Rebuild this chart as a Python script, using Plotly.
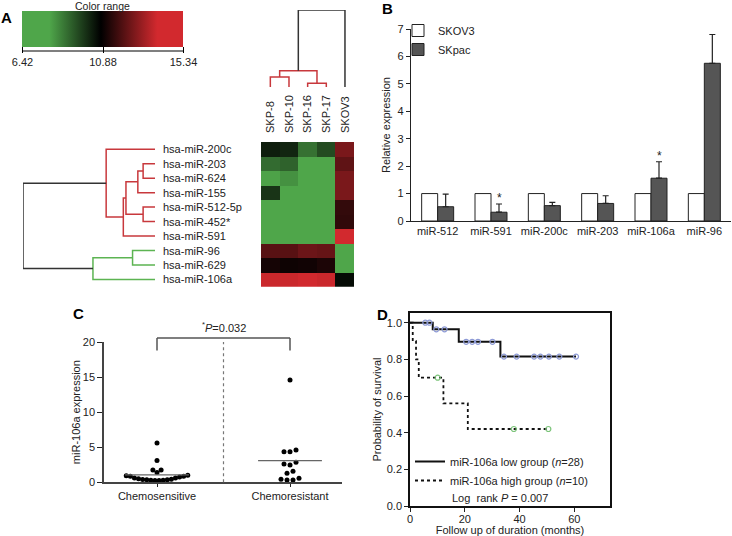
import numpy as np
import plotly.graph_objects as go

W, H = 732, 536
FONT = "Liberation Sans, Arial, Helvetica, sans-serif"

# ======================= DATA =======================
# Panel A - heatmap of miRNA expression
heat_rows = ["hsa-miR-200c", "hsa-miR-203", "hsa-miR-624", "hsa-miR-155",
             "hsa-miR-512-5p", "hsa-miR-452*", "hsa-miR-591", "hsa-miR-96",
             "hsa-miR-629", "hsa-miR-106a"]
heat_cols = ["SKP-8", "SKP-10", "SKP-16", "SKP-17", "SKOV3"]
heat_values = [
    [10.30, 10.15, 8.85, 9.50, 12.60],
    [8.95, 9.10, 6.90, 6.90, 12.20],
    [8.00, 8.30, 6.90, 6.90, 12.60],
    [9.90, 6.90, 6.90, 6.90, 12.60],
    [6.90, 6.90, 6.90, 6.90, 11.55],
    [6.90, 6.90, 6.90, 6.90, 11.50],
    [6.90, 6.90, 6.90, 6.90, 14.50],
    [12.10, 12.10, 12.40, 12.30, 6.90],
    [11.10, 11.00, 11.05, 11.20, 6.90],
    [13.80, 13.80, 13.90, 13.80, 10.60],
]
color_range_ticks = [6.42, 10.88, 15.34]
# hierarchical clustering (scipy-like linkage: child a, child b, height)
row_linkage = [(1, 2, 0.09), (10, 3, 0.13), (4, 5, 0.09), (11, 12, 0.22),
               (13, 6, 0.24), (0, 14, 0.37), (7, 8, 0.17), (16, 9, 0.47),
               (15, 17, 1.00)]
col_linkage = [(0, 1, 0.13), (2, 3, 0.05), (5, 6, 0.21), (7, 4, 1.00)]

# Panel B - qRT-PCR validation
b_mirnas = ["miR-512", "miR-591", "miR-200c", "miR-203", "miR-106a", "miR-96"]
b_skov3 = [1.0, 1.0, 1.0, 1.0, 1.0, 1.0]
b_skpac = [0.52, 0.32, 0.56, 0.64, 1.56, 5.75]
b_skpac_err = [0.46, 0.30, 0.12, 0.28, 0.60, 1.05]
b_significant = [False, True, False, False, True, False]

# Panel C - miR-106a expression in patient samples
c_groups = ["Chemosensitive", "Chemoresistant"]
c_sensitive = [5.6, 3.1, 1.76, 1.76, 1.38, 1.0, 0.85, 0.75, 0.6, 0.45, 0.35,
               0.3, 0.25, 0.25, 0.3, 0.35, 0.4, 0.5, 0.6, 0.85, 0.95]
c_resistant = [14.58, 4.37, 4.37, 4.6, 2.85, 2.47, 2.6, 1.57, 1.28,
               0.43, 0.33, 0.33, 0.57]
c_p_value = 0.032

# Panel D - Kaplan-Meier survival
d_low_times = [0, 8.3, 17.8, 33.0, 60.6]
d_low_surv = [1.0, 0.964, 0.896, 0.815, 0.815]
d_low_censor = [5.6, 7.1, 9.6, 12.6, 20.5, 22.7, 24.8, 30.1, 34.3, 38.9,
                45.3, 47.6, 50.7, 54.5, 60.6]
d_high_times = [0, 1.0, 2.2, 3.2, 12.2, 21.1, 50.5]
d_high_surv = [1.0, 0.9, 0.8, 0.7, 0.56, 0.42, 0.42]
d_high_censor = [10.1, 37.9, 50.5]
d_low_n, d_high_n = 28, 10
d_logrank_p = 0.007


# ======================= HELPERS =======================
def dom_x(x0, x1):
    return [x0 / W, x1 / W]


def dom_y(ytop, ybot):
    return [1 - ybot / H, 1 - ytop / H]


def dendro_segments(linkage, n):
    pos = {i: float(i) for i in range(n)}
    hgt = {i: 0.0 for i in range(n)}
    segs = []
    for k, (a, b, h) in enumerate(linkage):
        segs.append(([hgt[a], h, h, hgt[b]], [pos[a], pos[a], pos[b], pos[b]]))
        pos[n + k] = (pos[a] + pos[b]) / 2
        hgt[n + k] = h
    return segs


def swarm_offsets(values, y_px_per_unit, row_px, spacing_px):
    vals = np.asarray(values, float)
    rows = np.floor(vals * y_px_per_unit / row_px).astype(int)
    off = np.zeros(len(vals))
    for r in np.unique(rows):
        idx = np.where(rows == r)[0]
        idx = idx[np.argsort(vals[idx], kind="stable")]
        m = len(idx)
        slots = [(j - (m - 1) / 2) * spacing_px for j in range(m)]
        slots.sort(key=lambda s: (abs(s), s))
        for i, s in zip(idx, slots):
            off[i] = s
    return off


def step_value(t, times, surv):
    v = surv[0]
    for tt, ss in zip(times, surv):
        if tt <= t:
            v = ss
    return v


# ======================= STYLE =======================
RED = "#c8383c"
GREEN = "#5cb452"
BLACK = "#333333"
row_link_colors = [RED] * 6 + [GREEN] * 2 + [BLACK]
col_link_colors = [RED] * 3 + [BLACK]
heat_colorscale = [[0.0, "#4fa64a"], [0.17, "#4fa64a"], [0.49, "#000000"],
                   [0.84, "#d2292e"], [1.0, "#d2292e"]]

fig = go.Figure()

# ---------- Panel A ----------
fig.add_trace(go.Heatmap(
    z=heat_values, x=list(range(len(heat_cols))), y=list(range(len(heat_rows))),
    colorscale=heat_colorscale, zmin=color_range_ticks[0], zmax=color_range_ticks[-1],
    xaxis="x", yaxis="y", hoverinfo="skip",
    colorbar=dict(orientation="h", x=103 / W, xanchor="center", y=1 - 11 / H,
                  yanchor="top", len=161, lenmode="pixels", thickness=36,
                  thicknessmode="pixels", outlinewidth=0, xpad=0, ypad=0,
                  tickvals=color_range_ticks,
                  ticktext=[f"{v:.2f}" for v in color_range_ticks],
                  ticks="outside", ticklen=6, tickcolor="black", tickwidth=1.2,
                  tickfont=dict(size=11, color="#222"))))

for color in [RED, GREEN, BLACK]:
    xs, ys = [], []
    for (hx, py), c in zip(dendro_segments(row_linkage, len(heat_rows)), row_link_colors):
        if c == color:
            xs += hx + [None]
            ys += py + [None]
    fig.add_trace(go.Scatter(x=xs, y=ys, mode="lines", xaxis="x2", yaxis="y",
                             line=dict(color=color, width=1.5), hoverinfo="skip",
                             showlegend=False))
for color in [RED, BLACK]:
    xs, ys = [], []
    for (hy, px), c in zip(dendro_segments(col_linkage, len(heat_cols)), col_link_colors):
        if c == color:
            xs += px + [None]
            ys += hy + [None]
    fig.add_trace(go.Scatter(x=xs, y=ys, mode="lines", xaxis="x", yaxis="y3",
                             line=dict(color=color, width=1.5), hoverinfo="skip",
                             showlegend=False))

# ---------- Panel B ----------
fig.add_trace(go.Bar(name="SKOV3", x=b_mirnas, y=b_skov3, xaxis="x4", yaxis="y4",
                     marker=dict(color="white", line=dict(color="#222", width=1)),
                     legend="legend"))
fig.add_trace(go.Bar(name="SKpac", x=b_mirnas, y=b_skpac, xaxis="x4", yaxis="y4",
                     marker=dict(color="#555555", line=dict(color="#222", width=1)),
                     error_y=dict(type="data", array=b_skpac_err,
                                  arrayminus=[0] * len(b_skpac), symmetric=False,
                                  color="#222", thickness=1.2, width=3),
                     legend="legend"))

# ---------- Panel C ----------
C_X0, C_X1, C_YT, C_YB = 104, 342, 342, 482.3
C_G0 = 157
C_XPU = 133.0
c_xrange = [-(C_G0 - C_X0) / C_XPU, (C_X1 - C_G0) / C_XPU]
c_yrange = [0, 20]
c_ypu = (C_YB - C_YT) / (c_yrange[1] - c_yrange[0])
c_spacing = [4.1, 6.0]
for gi, (vals, sp) in enumerate(zip([c_sensitive, c_resistant], c_spacing)):
    offs = swarm_offsets(vals, c_ypu, 8.5, sp) / C_XPU
    fig.add_trace(go.Scatter(x=gi + offs, y=vals, mode="markers", xaxis="x5", yaxis="y5",
                             marker=dict(color="black", size=5), showlegend=False,
                             name=c_groups[gi]))
    m = float(np.mean(vals))
    fig.add_trace(go.Scatter(x=[gi - 0.24, gi + 0.24], y=[m, m], mode="lines",
                             xaxis="x5", yaxis="y5", line=dict(color="#666", width=1.2),
                             showlegend=False, hoverinfo="skip"))

# ---------- Panel D ----------
fig.add_trace(go.Scatter(x=d_low_times, y=d_low_surv, mode="lines", xaxis="x6", yaxis="y6",
                         line=dict(shape="hv", color="#111", width=2),
                         name=f"miR-106a low group (<i>n</i>={d_low_n})", legend="legend2"))
fig.add_trace(go.Scatter(x=d_high_times, y=d_high_surv, mode="lines", xaxis="x6", yaxis="y6",
                         line=dict(shape="hv", color="#111", width=1.8, dash="dot"),
                         name=f"miR-106a high group (<i>n</i>={d_high_n})", legend="legend2"))
fig.add_trace(go.Scatter(x=d_low_censor,
                         y=[step_value(t, d_low_times, d_low_surv) for t in d_low_censor],
                         mode="markers", xaxis="x6", yaxis="y6", showlegend=False,
                         marker=dict(symbol="circle-open", size=5, color="#8d9ad6",
                                     line=dict(width=1.2))))
fig.add_trace(go.Scatter(x=d_high_censor,
                         y=[step_value(t, d_high_times, d_high_surv) for t in d_high_censor],
                         mode="markers", xaxis="x6", yaxis="y6", showlegend=False,
                         marker=dict(symbol="circle-open", size=5, color="#7cc47a",
                                     line=dict(width=1.2))))

# ======================= LAYOUT =======================
ax_common = dict(showgrid=False, zeroline=False, color="#222", automargin=False,
                 tickfont=dict(size=11, color="#222"))

annotations = []
shapes = []

# panel letters
for letter, (px, py) in zip("ABCD", [(6, 17), (387, 9), (78, 313), (382, 314)]):
    annotations.append(dict(text=f"<b>{letter}</b>", x=px / W, y=1 - py / H,
                            xref="paper", yref="paper", xanchor="center", yanchor="middle",
                            showarrow=False, font=dict(size=15, color="black")))

# colour-range title and baseline
annotations.append(dict(text="Color range", x=103 / W, y=1 - 6 / H, xref="paper",
                        yref="paper", xanchor="center", yanchor="middle", showarrow=False,
                        font=dict(size=10.5, color="#222")))
shapes.append(dict(type="line", xref="paper", yref="paper", x0=22.5 / W, x1=184 / W,
                   y0=1 - 51 / H, y1=1 - 51 / H, line=dict(color="black", width=1.2)))

# row labels
for i, lab in enumerate(heat_rows):
    annotations.append(dict(text=lab, x=161 / W, y=i, xref="paper", yref="y",
                            xanchor="left", yanchor="middle", showarrow=False,
                            font=dict(size=11, color="#222")))

# significance stars in B
for i, sig in enumerate(b_significant):
    if sig:
        annotations.append(dict(text="*", x=i + 0.15, y=b_skpac[i] + b_skpac_err[i],
                                xref="x4", yref="y4", xanchor="center", yanchor="bottom",
                                showarrow=False, font=dict(size=12, color="#222"),
                                yshift=-3))

# C: separator, bracket, p-value
shapes.append(dict(type="line", xref="x5", yref="y5 domain", x0=0.5, x1=0.5, y0=0, y1=1,
                   line=dict(color="#777", width=1.2, dash="dot")))
br_top, br_bot = 1.028, 0.94
for (x0, y0, x1, y1) in [(0, br_bot, 0, br_top), (0, br_top, 1, br_top), (1, br_top, 1, br_bot)]:
    shapes.append(dict(type="line", xref="x5", yref="y5 domain", x0=x0, x1=x1, y0=y0, y1=y1,
                       line=dict(color="#555", width=1.5)))
annotations.append(dict(text=f"<sup>*</sup><i>P</i>={c_p_value:.3f}", x=0.5, y=br_top,
                        xref="x5", yref="y5 domain", xanchor="center", yanchor="bottom",
                        showarrow=False, font=dict(size=11, color="#222"), yshift=2))

# D: log-rank annotation
annotations.append(dict(text=f"Log  rank <i>P</i> = {d_logrank_p:.3f}", x=450 / W,
                        y=1 - 498 / H, xref="paper", yref="paper", xanchor="left",
                        yanchor="middle", showarrow=False, font=dict(size=11, color="#222")))

fig.update_layout(
    template="none",
    width=W, height=H, autosize=False,
    margin=dict(l=0, r=0, t=0, b=0, pad=0),
    paper_bgcolor="white", plot_bgcolor="white",
    font=dict(family=FONT, size=11, color="#222"),
    barmode="group", bargap=0.4, bargroupgap=0.0,
    showlegend=True,
    # heatmap
    xaxis=dict(domain=dom_x(261, 354.3), range=[-0.5, 4.5], anchor="y", side="top",
               tickvals=list(range(len(heat_cols))), ticktext=heat_cols, tickangle=-90,
               ticks="", showline=False, ticklabelstandoff=8, **ax_common),
    yaxis=dict(domain=dom_y(142, 286.7), range=[len(heat_rows) - 0.5, -0.5], anchor="x",
               showticklabels=False, ticks="", showline=False, **ax_common),
    # row dendrogram
    xaxis2=dict(domain=dom_x(23, 155), range=[1.0, 0.0], anchor="y", visible=False,
                **ax_common),
    # column dendrogram
    yaxis3=dict(domain=dom_y(10, 87), range=[0, 1.0], anchor="x", visible=False,
                **ax_common),
    # panel B
    xaxis4=dict(domain=dom_x(411, 731), anchor="y4", type="category", range=[-0.5, 5.5],
                showline=True, linecolor="#222", linewidth=1.2, ticks="", **ax_common),
    yaxis4=dict(domain=dom_y(29, 221), anchor="x4", range=[0, 7], dtick=1,
                showline=True, linecolor="#222", linewidth=1.2, ticks="outside",
                ticklen=4, title=dict(text="Relative expression", standoff=4,
                                      font=dict(size=11)), **ax_common),
    # panel C
    xaxis5=dict(domain=dom_x(C_X0, C_X1), anchor="y5", range=c_xrange,
                tickvals=[0, 1], ticktext=c_groups, showline=True, linecolor="#444",
                linewidth=1.5, ticks="outside", ticklen=3, **ax_common),
    yaxis5=dict(domain=dom_y(C_YT, C_YB), anchor="x5", range=c_yrange,
                tickvals=[0, 5, 10, 15, 20], showline=True, linecolor="#444",
                linewidth=1.5, ticks="outside", ticklen=5,
                title=dict(text="miR-106a expression", standoff=0, font=dict(size=11)),
                **ax_common),
    # panel D
    xaxis6=dict(domain=dom_x(410, 610), anchor="y6", range=[0, 73],
                tickvals=[0, 20, 40, 60], showline=True, mirror=True, linecolor="#111",
                linewidth=1.5, ticks="outside", ticklen=4, ticklabelstandoff=-2,
                title=dict(text="Follow up of duration (months)", standoff=2,
                           font=dict(size=11)), **ax_common),
    yaxis6=dict(domain=dom_y(313, 506), anchor="x6", range=[0, 1.053],
                tickvals=[0, 0.2, 0.4, 0.6, 0.8, 1.0], tickformat=".1f", showline=True,
                mirror=True, linecolor="#111", linewidth=1.5, ticks="outside", ticklen=4,
                title=dict(text="Probability of survival", standoff=3, font=dict(size=11)),
                **ax_common),
    legend=dict(x=398 / W, y=1 - 16 / H, xanchor="left", yanchor="top",
                bgcolor="rgba(0,0,0,0)", font=dict(size=11, color="#222"),
                itemwidth=30, tracegroupgap=0),
    legend2=dict(x=410 / W, y=1 - 447 / H, xanchor="left", yanchor="top",
                 bgcolor="rgba(0,0,0,0)", font=dict(size=11, color="#222"),
                 itemwidth=30, tracegroupgap=0),
    annotations=annotations,
    shapes=shapes,
)

fig.write_html("out.html", config={"displayModeBar": False},
               post_script="document.body.style.margin='0px';")
